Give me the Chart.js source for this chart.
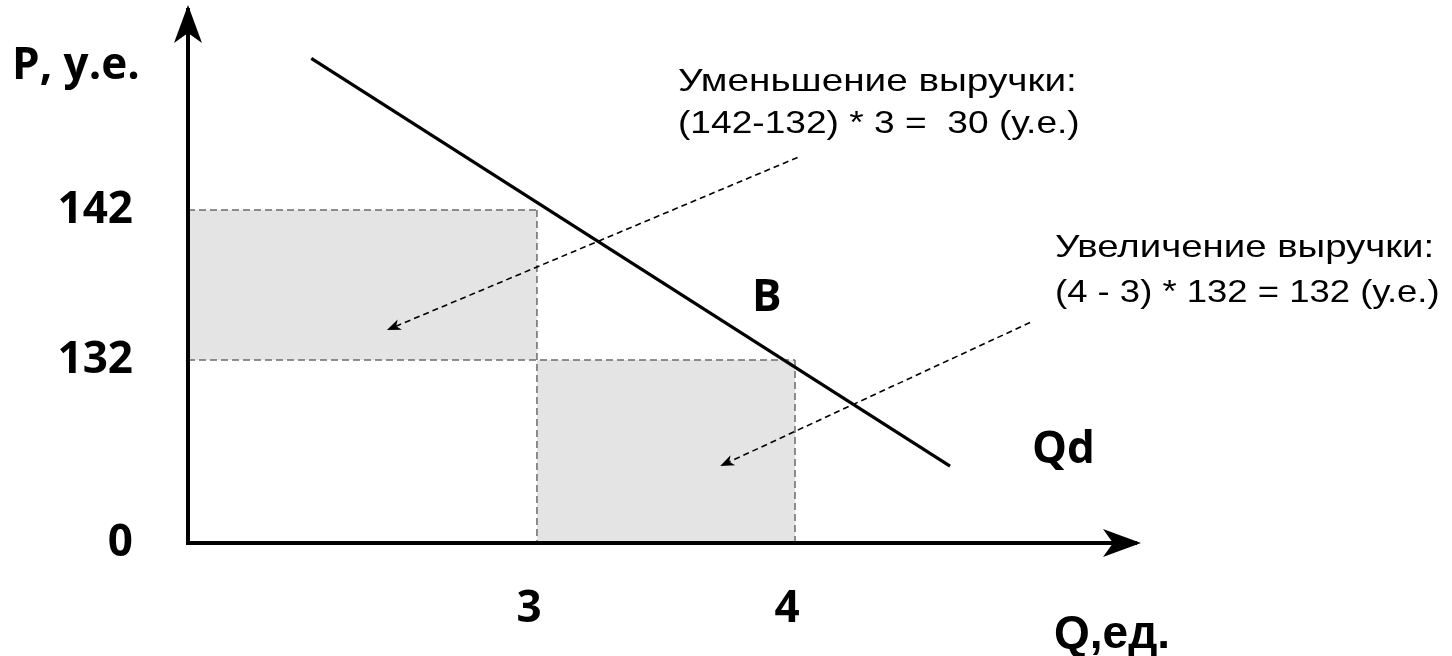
<!DOCTYPE html>
<html>
<head>
<meta charset="utf-8">
<script src="https://cdn.jsdelivr.net/npm/chart.js@4/dist/chart.umd.min.js"></script>
<style>
  html, body { margin: 0; padding: 0; background: #fff; }
  #wrap { width: 1452px; height: 656px; position: relative; }
</style>
</head>
<body>
<div id="wrap"><canvas id="chart"></canvas></div>
<script>
// Data (diagram is not drawn to scale, so the axes use "stops")
const quantities = [3, 4];          // Q, ед.
const prices = [142, 132];          // P, у.е. at those quantities
const quantityTicks = [3, 4];
const priceTicks = [0, 132, 142];
const demandQ = [1.06, 4.60];       // ends of the Qd line
const demandP = [152.1, 55.5];
// dashed pointer arrows: from the note to the shaded area
const pointerFromQ = [4.01, 4.91];
const pointerFromP = [145.5, 134.5];
const pointerToQ = [1.71, 3.71];
const pointerToP = [134, 55.5];

// where each labelled value sits along its axis (0 = start, 1 = end)
const axisStops = {
  x: [[0, 0], [3, 0.3681], [4, 0.6403], [5.32, 1]],
  y: [[0, 0], [132, 0.3433], [142, 0.6248], [155.33, 1]]
};

function toDecimal(stops, v) {
  for (let i = 1; i < stops.length; i++) {
    const [v0, d0] = stops[i - 1], [v1, d1] = stops[i];
    if (v <= v1 || i === stops.length - 1) return d0 + (v - v0) / (v1 - v0) * (d1 - d0);
  }
  return 0;
}
function fromDecimal(stops, d) {
  for (let i = 1; i < stops.length; i++) {
    const [v0, d0] = stops[i - 1], [v1, d1] = stops[i];
    if (d <= d1 || i === stops.length - 1) return v0 + (d - d0) / (d1 - d0) * (v1 - v0);
  }
  return 0;
}

class SchematicScale extends Chart.LinearScale {
  getPixelForValue(value) {
    return this.getPixelForDecimal(toDecimal(axisStops[this.id], value));
  }
  getValueForPixel(pixel) {
    return fromDecimal(axisStops[this.id], this.getDecimalForPixel(pixel));
  }
}
SchematicScale.id = 'schematic';
SchematicScale.defaults = Chart.LinearScale.defaults;
Chart.register(SchematicScale);

function stealth(ctx, x, y, angle, len, half, notch) {
  ctx.save();
  ctx.translate(x, y);
  ctx.rotate(angle);
  ctx.beginPath();
  ctx.moveTo(0, 0);
  ctx.lineTo(-len, -half);
  ctx.lineTo(-len + notch, 0);
  ctx.lineTo(-len, half);
  ctx.closePath();
  ctx.fill();
  ctx.restore();
}

function text(ctx, str, x, y, font, sx) {
  ctx.save();
  ctx.translate(x, y);
  ctx.scale(sx || 1, 1);
  ctx.font = font;
  ctx.textBaseline = 'alphabetic';
  ctx.textAlign = 'left';
  ctx.fillStyle = '#000';
  ctx.fillText(str, 0, 0);
  ctx.restore();
}

const diagramPlugin = {
  id: 'diagram',
  afterDraw(chart) {
    const { ctx, chartArea: a } = chart;
    const sx = chart.scales.x, sy = chart.scales.y;
    ctx.save();
    ctx.fillStyle = '#000';
    // axis arrow heads
    stealth(ctx, a.left, a.top - 5, -Math.PI / 2, 38, 14, 10);
    stealth(ctx, a.right + 5, a.bottom, 0, 38, 14, 10);

    // dashed pointers
    for (let i = 0; i < pointerFromQ.length; i++) {
      const x0 = sx.getPixelForValue(pointerFromQ[i]), y0 = sy.getPixelForValue(pointerFromP[i]);
      const x1 = sx.getPixelForValue(pointerToQ[i]), y1 = sy.getPixelForValue(pointerToP[i]);
      const ang = Math.atan2(y1 - y0, x1 - x0);
      ctx.strokeStyle = '#000';
      ctx.lineWidth = 1.6;
      ctx.setLineDash([6, 4]);
      ctx.beginPath();
      ctx.moveTo(x0, y0);
      ctx.lineTo(x1 - Math.cos(ang) * 10, y1 - Math.sin(ang) * 10);
      ctx.stroke();
      ctx.setLineDash([]);
      stealth(ctx, x1, y1, ang, 14, 5.5, 4);
    }
    ctx.restore();

    // texts
    const bold = 'bold 44px "Open Sans"';
    text(ctx, 'P, у.е.', 12, 79, bold);
    text(ctx, 'Q,ед.', 1054, 648, 'bold 46px "Liberation Sans"');
    text(ctx, 'B', 752, 311, bold);
    text(ctx, 'Qd', 1032, 463, bold);
    const note = '32px "Liberation Sans"';
    text(ctx, 'Уменьшение выручки:', 678, 91, note, 1.21);
    text(ctx, '(142-132) * 3 =  30 (у.е.)', 678, 133, note, 1.16);
    text(ctx, 'Увеличение выручки:', 1055, 257, note, 1.2);
    text(ctx, '(4 - 3) * 132 = 132 (у.е.)', 1055, 302, note, 1.14);
  }
};

const dashStyle = { borderColor: '#6b6b6b', borderWidth: 1.5, borderDash: [7, 4], pointRadius: 0, fill: false };
const shade = '#e4e4e4';

new Chart(document.getElementById('chart'), {
  type: 'line',
  data: {
    datasets: [
      { data: demandQ.map((q, i) => ({ x: q, y: demandP[i] })), borderColor: '#000', borderWidth: 3.2, pointRadius: 0, fill: false },
      { data: [{ x: 0, y: prices[0] }, { x: quantities[0], y: prices[0] }], ...dashStyle },
      { data: [{ x: quantities[0], y: prices[0] }, { x: quantities[0], y: 0 }], ...dashStyle },
      { data: [{ x: 0, y: prices[1] }, { x: quantities[1], y: prices[1] }], ...dashStyle },
      { data: [{ x: quantities[1], y: prices[1] }, { x: quantities[1], y: 0 }], ...dashStyle },
      // lost revenue: price drop over the old quantity
      { data: [{ x: 0, y: prices[0] }, { x: quantities[0], y: prices[0] }], borderColor: 'transparent', borderWidth: 0, pointRadius: 0, backgroundColor: shade, fill: { value: prices[1] } },
      // gained revenue: extra unit at the new price
      { data: [{ x: quantities[0], y: prices[1] }, { x: quantities[1], y: prices[1] }], borderColor: 'transparent', borderWidth: 0, pointRadius: 0, backgroundColor: shade, fill: { value: 0 } }
    ]
  },
  options: {
    responsive: true,
    maintainAspectRatio: false,
    animation: false,
    layout: { padding: { left: 0, top: 10, right: 316, bottom: 0 } },
    plugins: { legend: { display: false }, tooltip: { enabled: false } },
    scales: {
      x: {
        type: 'schematic',
        min: 0, max: 5.32,
        afterBuildTicks: s => { s.ticks = quantityTicks.map(v => ({ value: v })); },
        afterFit: s => { s.height = 113; s.paddingLeft = 0; s.paddingRight = 0; },
        grid: { display: false, drawTicks: false },
        border: { display: true, color: '#000', width: 4, z: 1 },
        ticks: { color: '#000', padding: 40, labelOffset: -8, font: { family: 'Open Sans', size: 44, weight: 'bold' }, callback: v => String(v) }
      },
      y: {
        type: 'schematic',
        min: 0, max: 155.33,
        afterBuildTicks: s => { s.ticks = priceTicks.map(v => ({ value: v })); },
        afterFit: s => { s.width = 188; s.paddingTop = 0; s.paddingBottom = 0; },
        grid: { display: false, drawTicks: false },
        border: { display: true, color: '#000', width: 4, z: 1 },
        ticks: { color: '#000', padding: 55, font: { family: 'Open Sans', size: 44, weight: 'bold' }, callback: v => String(v) }
      }
    }
  },
  plugins: [diagramPlugin]
});
</script>
</body>
</html>
